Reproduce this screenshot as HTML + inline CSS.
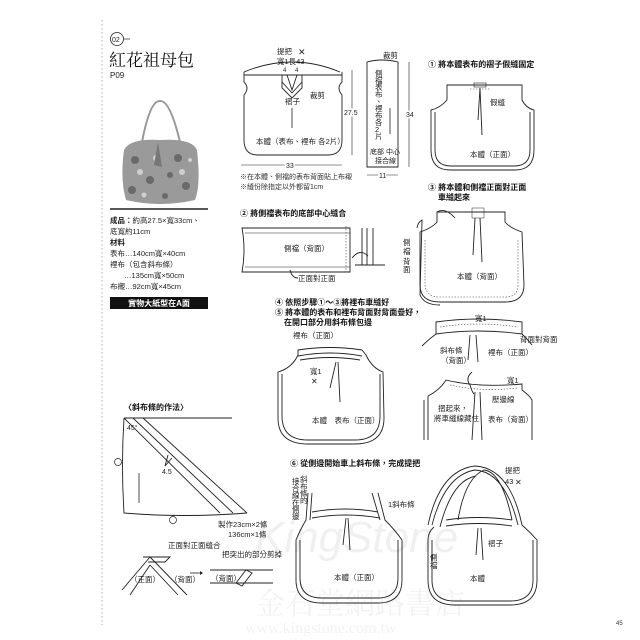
<!DOCTYPE html>
<html><head><meta charset="utf-8"><style>
html,body{margin:0;padding:0;background:#fff;}
svg{display:block;font-family:"Liberation Sans","Noto Sans CJK TC",sans-serif;}
.t{font-size:7.5px;fill:#222}
.b{font-size:8px;font-weight:bold;fill:#111}
.l{fill:none;stroke:#222;stroke-width:0.9}
.d{fill:none;stroke:#444;stroke-width:0.6;stroke-dasharray:1.5 1.5}
</style></head><body>
<svg width="640" height="640" viewBox="0 0 640 640">
<line x1="102" y1="20" x2="102" y2="625" stroke="#999" stroke-width="0.8" stroke-dasharray="1.5 2.5"/>
<circle cx="117" cy="39" r="6.5" fill="none" stroke="#222" stroke-width="0.8"/>
<text x="112" y="42" font-size="7" fill="#222">02</text>
<line x1="124" y1="39" x2="130" y2="39" stroke="#222" stroke-width="0.7"/>
<text x="109" y="66" font-size="17" fill="#111" font-family="'Noto Serif CJK SC',serif">紅花祖母包</text>
<text x="110" y="78" font-size="8" fill="#222">P09</text>
<!-- bag photo -->
<path d="M142,142 Q150,100 160,101 Q170,100 180,142" fill="none" stroke="#999" stroke-width="2"/>
<path d="M124,150 Q130,138 160,140 Q192,138 197,150 Q201,185 195,200 Q160,208 126,200 Q120,180 124,150Z" fill="#9a9a9a"/>
<g fill="#6a6a6a"><circle cx="135" cy="160" r="4"/><circle cx="150" cy="180" r="4"/><circle cx="178" cy="158" r="4"/><circle cx="186" cy="186" r="4"/><circle cx="132" cy="190" r="4"/><circle cx="165" cy="196" r="3"/><circle cx="170" cy="175" r="3"/></g>
<g fill="#cfcfcf"><circle cx="140" cy="172" r="3"/><circle cx="182" cy="172" r="3"/><circle cx="156" cy="158" r="3"/><circle cx="144" cy="195" r="2.5"/><circle cx="190" cy="160" r="2"/></g>
<path d="M158,142 L154,165 L162,167 Z" fill="#777"/>
<line x1="110" y1="209" x2="208" y2="209" stroke="#222" stroke-width="1.6"/>
<text x="110" y="223" class="t"><tspan font-weight="bold">成品：</tspan>約高27.5×寬33cm、</text>
<text x="110" y="234" class="t">底寬約11cm</text>
<text x="110" y="245" class="t" font-weight="bold">材料</text>
<text x="110" y="256" class="t">表布…140cm寬×40cm</text>
<text x="110" y="267" class="t">裡布（包含斜布條）</text>
<text x="124" y="278" class="t">…135cm寬×50cm</text>
<text x="110" y="289" class="t">布襯…92cm寬×45cm</text>
<rect x="110" y="297" width="98" height="12" fill="#111"/>
<text x="159" y="306" font-size="8" font-weight="bold" fill="#fff" text-anchor="middle">實物大紙型在A面</text>

<path class="l" d="M244,72 Q292,52 340,72"/>
<path class="l" d="M244,72 L244,82 Q250,88 244,95 L244,140 Q244,155 258,155 L328,155 Q342,155 342,140 L342,95 Q336,88 342,82 L342,72"/>
<line class="l" x1="244" y1="75" x2="342" y2="75" stroke-width="0.6"/>
<path class="l" stroke-width="0.6" d="M282,75 L282,88 L292,98 L302,88 L302,75 M287,75 L292,90 L297,75 M282,82 L292,93 L302,82"/>
<text x="277" y="54" class="t">提把</text><text x="298" y="55" font-size="9" fill="#222">✕</text>
<text x="277" y="64" class="t">寬1長43</text>
<text x="283" y="72" font-size="6" fill="#222">4</text><text x="295" y="72" font-size="6" fill="#222">4</text>
<text x="285" y="104" class="t">褶子</text><text x="310" y="98" class="t">裁剪</text>
<line x1="292" y1="108" x2="292" y2="128" stroke="#222" stroke-width="0.8"/>
<text x="256" y="144" class="t">本體（表布、裡布 各2片）</text>
<line x1="352" y1="70" x2="352" y2="155" stroke="#222" stroke-width="0.6"/>
<text x="344" y="115" font-size="7" fill="#222" style="paint-order:stroke" stroke="#fff" stroke-width="3">27.5</text>
<line x1="241" y1="165" x2="342" y2="165" stroke="#222" stroke-width="0.6"/>
<text x="286" y="168" font-size="7" fill="#222" style="paint-order:stroke" stroke="#fff" stroke-width="3">33</text>
<text x="240" y="179" font-size="7" fill="#333">※在本體、側襠的表布背面貼上布襯</text>
<text x="240" y="189" font-size="7" fill="#333">※縫份除指定以外都留1cm</text>
<path class="l" d="M367,62 Q382,58 398,62 L398,167 L367,167 Z"/>
<text x="383" y="58" class="t">裁剪</text>
<text class="t" font-size="6.5"><tspan x="375" y="76">側</tspan><tspan x="375" y="83">襠</tspan><tspan x="375" y="90">表</tspan><tspan x="375" y="97">布</tspan><tspan x="375" y="104">、</tspan><tspan x="375" y="111">裡</tspan><tspan x="375" y="118">布</tspan><tspan x="375" y="125">各</tspan><tspan x="375" y="132">2</tspan><tspan x="375" y="139">片</tspan></text>
<line x1="390" y1="108" x2="390" y2="134" stroke="#222" stroke-width="0.8"/>
<text x="370" y="154" font-size="7" fill="#222">底部 中心</text>
<text x="375" y="163" font-size="7" fill="#222">接合線</text>
<line x1="409" y1="62" x2="409" y2="167" stroke="#222" stroke-width="0.6"/>
<text x="406" y="117" font-size="7" fill="#222" style="paint-order:stroke" stroke="#fff" stroke-width="3">34</text>
<line x1="367" y1="175" x2="398" y2="175" stroke="#222" stroke-width="0.6"/>
<text x="379" y="178" font-size="7" fill="#222" style="paint-order:stroke" stroke="#fff" stroke-width="3">11</text>

<text x="428" y="67" class="b">① 將本體表布的褶子假縫固定</text>
<path class="l" d="M447,85 L522,85 L522,100 Q526,108 534,110 L534,150 Q534,170 515,170 L450,170 Q431,170 431,150 L431,110 Q440,108 447,100 Z"/>
<path class="l" stroke-width="0.5" d="M435,112 L435,150 Q435,166 451,166 L514,166 Q530,166 530,150 L530,112"/>
<rect x="474" y="83" width="12" height="4" fill="none" stroke="#222" stroke-width="0.6"/>
<line class="d" x1="470" y1="89" x2="490" y2="89"/>
<path class="l" stroke-width="0.6" d="M480,88 L478,120 M480,88 L482,135"/>
<text x="490" y="105" class="t">假縫</text>
<text x="470" y="157" class="t">本體（正面）</text>

<text x="428" y="190" class="b">③ 將本體和側襠正面對正面</text>
<text x="438" y="200" class="b">車縫起來</text>
<path class="l" d="M437,212 L505,212 L505,222 Q510,228 522,232 L524,285 Q524,302 505,302 L440,302 Q420,302 420,285 L420,232 Q432,228 437,222 Z"/>
<path class="l" stroke-width="0.6" d="M417,228 Q418,222 422,220 L420,295 Q424,305 440,305 M437,212 Q445,207 455,218"/>
<path class="d" d="M425,240 L425,285 Q426,297 440,297 L505,297 Q518,297 518,285 L518,240"/>
<rect x="472" y="208" width="12" height="10" fill="none" stroke="#222" stroke-width="0.5"/>
<path class="l" stroke-width="0.6" d="M475,218 L473,255 M480,218 L482,262"/>
<text class="t" font-size="7"><tspan x="403" y="245">側</tspan><tspan x="403" y="254">襠</tspan><tspan x="403" y="264">背</tspan><tspan x="403" y="272">面</tspan></text>
<text x="457" y="279" class="t">本體（背面）</text>

<text x="240" y="216" class="b">② 將側襠表布的底部中心縫合</text>
<path class="l" d="M242,228 L350,228 L350,272 L242,272 Q246,250 242,228Z"/>
<line x1="245" y1="233" x2="350" y2="233" stroke="#222" stroke-width="0.5"/>
<line x1="245" y1="267" x2="350" y2="267" stroke="#222" stroke-width="0.5"/>
<line class="d" x1="346" y1="226" x2="346" y2="273"/>
<path class="l" stroke-width="0.6" d="M362,228 L362,265 M367,228 L367,265 M373,228 L373,265 M355,265 L385,265 M352,258 Q360,248 368,256"/>
<text x="284" y="251" class="t">側襠（背面）</text>
<path class="l" stroke-width="0.5" d="M290,270 Q292,278 298,278"/>
<text x="298" y="281" class="t">正面對正面</text>

<text x="275" y="305" class="b">④ 依照步驟①～③將裡布車縫好</text>
<text x="275" y="315" class="b">⑤ 將本體的表布和裡布背面對背面疊好，</text>
<text x="284" y="325" class="b">在開口部分用斜布條包邊</text>
<text x="293" y="338" class="t">裡布（正面）</text>
<path class="l" d="M298,350 Q330,345 362,350 L366,355 Q372,368 383,372 L384,418 Q384,444 355,444 L308,444 Q278,444 278,418 L278,372 Q292,368 298,355 Z"/>
<path class="l" stroke-width="0.6" d="M298,356 Q330,350 362,356 M300,360 Q330,355 360,360 M282,374 L282,416 Q282,440 308,440 L355,440 Q380,440 380,416 L380,374"/>
<path class="l" stroke-width="0.6" d="M336,362 L330,388 M338,362 L340,402"/>
<text x="310" y="374" class="t">寬1</text><text x="311" y="384" font-size="8" fill="#222">✕</text>
<text x="312" y="423" class="t">本體　表布（正面）</text>

<path class="l" d="M436,322 Q478,316 522,322 L522,334 Q478,328 436,334 Z"/>
<path class="d" d="M440,327 Q478,321 518,327"/>
<path class="l" stroke-width="0.6" d="M436,334 Q428,340 422,346 M522,334 Q528,340 532,345 M470,335 L468,360 M476,335 L478,362"/>
<text x="475" y="321" class="t">寬1</text>
<text x="520" y="342" class="t">背面對背面</text>
<text x="440" y="353" class="t">斜布條</text><text x="441" y="363" class="t">（背面）</text>
<text x="488" y="355" class="t">裡布（正面）</text>
<path class="l" stroke-width="0.7" d="M472,372 Q465,378 470,385 M470,385 Q472,392 474,394"/>
<path class="l" d="M446,380 Q478,388 522,384 L522,390 Q530,396 532,400 L532,440 M446,380 Q440,390 428,396 L428,440 M424,400 L424,440"/>
<path class="d" d="M450,385 Q480,392 518,388"/>
<path class="l" stroke-width="0.6" d="M475,392 L472,440 M480,392 L482,440"/>
<text x="507" y="383" class="t">寬1</text>
<text x="492" y="402" class="t">壓邊線</text>
<text x="438" y="411" class="t">摺起來，</text>
<text x="434" y="421" class="t">將車縫線藏住</text>
<text x="488" y="422" class="t">表布（背面）</text>

<text x="124" y="410" class="b">〈斜布條的作法〉</text>
<path class="l" d="M124,418 L232,418 M124,418 Q121,465 124,513 Q185,518 247,513"/>
<path class="l" d="M124,418 L220,513 M133,418 L233,513 M143,418 L247,513"/>
<circle cx="118" cy="462" r="3.5" fill="#fff" stroke="#222" stroke-width="0.7"/>
<circle cx="173" cy="520" r="3.5" fill="#fff" stroke="#222" stroke-width="0.7"/>
<text x="127" y="430" font-size="7" fill="#222">45°</text>
<text x="162" y="474" font-size="7" fill="#222">4.5</text>
<path class="l" stroke-width="0.5" d="M165,466 L168,455 M165,466 L172,458"/>
<line x1="139" y1="473" x2="139" y2="503" stroke="#222" stroke-width="0.8"/>
<text x="218" y="527" class="t">製作23cm×2條</text>
<text x="228" y="537" class="t">136cm×1條</text>
<text x="168" y="548" class="t">正面對正面縫合</text>
<path class="l" stroke-width="0.7" d="M150,557 L122,590 M150,557 L187,595 M150,565 L130,595 M150,565 L178,595 M143,557 L170,557 L165,562 L148,562"/>
<text x="130" y="582" class="t">（正面）</text><text x="170" y="582" class="t">（背面）</text>
<path d="M190,573 L200,573" stroke="#222" stroke-width="0.8"/><path d="M200,571 L203,573 L200,575Z" fill="#222"/>
<text x="222" y="557" class="t">把突出的部分剪掉</text>
<path class="l" stroke-width="0.6" d="M210,570 L273,570 M210,583 L273,583 M236,583 L246,570 L252,573 L242,586 Z"/>
<text x="211" y="581" class="t">（背面）</text>

<text x="290" y="466" class="b">⑥ 從側邊開始車上斜布條，完成提把</text>
<text class="t" font-size="6.5"><tspan x="300" y="482">斜</tspan><tspan x="300" y="489">布</tspan><tspan x="300" y="496">條</tspan><tspan x="300" y="503">的</tspan><tspan x="292" y="484">接</tspan><tspan x="292" y="491">合</tspan><tspan x="292" y="498">線</tspan><tspan x="292" y="505">在</tspan><tspan x="292" y="512">側</tspan><tspan x="292" y="519">邊</tspan></text>
<path class="l" d="M308,493 L306,520 Q300,530 296,540 L296,580 Q296,603 322,603 L378,603 Q402,603 402,580 L402,540 Q395,530 385,520 L378,493"/>
<path class="l" stroke-width="0.6" d="M312,493 L310,520 M372,493 L380,520 M312,512 Q345,506 378,512 M312,518 Q345,512 380,518 M300,540 L300,578 Q300,598 322,598 L378,598 Q398,598 398,578 L398,540"/>
<path class="l" stroke-width="0.6" d="M346,518 L343,545 M348,518 L350,550"/>
<text x="388" y="507" class="t">1斜布條</text>
<text x="334" y="580" class="t">本體（正面）</text>
<path class="l" d="M428,525 Q440,470 475,466 Q510,468 522,525 Q530,532 537,540 L537,580 Q537,605 510,605 L455,605 Q428,605 428,580 L428,540 Q428,532 434,527"/>
<path class="l" stroke-width="0.6" d="M432,525 Q445,475 475,470 Q505,472 518,525 M440,527 Q452,480 476,476 M458,520 Q465,478 484,470 Q502,472 512,520 M446,520 Q478,515 512,520 M446,526 Q478,521 512,526 M432,540 L432,580 Q432,601 455,601 L510,601 Q533,601 533,580 L533,540"/>
<path class="l" stroke-width="0.6" d="M478,528 L476,555 M481,528 L483,560"/>
<text x="505" y="473" class="t">提把</text><text x="505" y="484" class="t">43</text><text x="515" y="485" font-size="8" fill="#222">✕</text>
<text x="488" y="546" class="t">褶子</text>
<text x="470" y="581" class="t">本體</text>
<text class="t" font-size="7"><tspan x="430" y="560">側</tspan><tspan x="430" y="568">襠</tspan></text>

<text x="255" y="552" font-size="44" font-style="italic" fill="#000" fill-opacity="0.06">KingStone</text>
<text x="255" y="614" font-size="30" fill="#000" fill-opacity="0.05" font-family="'Noto Serif CJK TC',serif">金石堂網路書店</text>
<text x="245" y="633" font-size="16" fill="#000" fill-opacity="0.05" font-family="'Liberation Serif',serif">www.kingstone.com.tw</text>
<text x="616" y="625" font-size="6" fill="#333">45</text>
</svg>
</body></html>
